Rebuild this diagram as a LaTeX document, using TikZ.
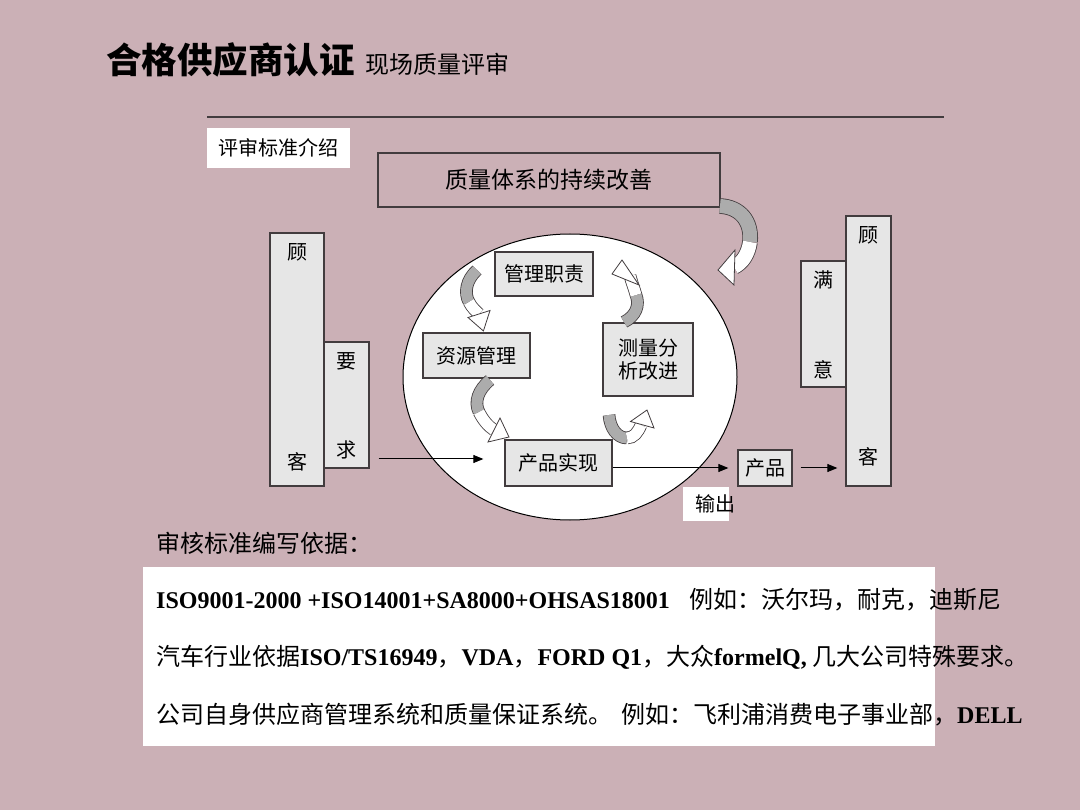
\documentclass[tikz,border=0pt]{standalone}
\usepackage{fontspec}
\setmainfont{Liberation Serif}
\newfontfamily\cjk{Noto Sans CJK SC}
\usetikzlibrary{arrows.meta,calc,shapes.geometric}
\definecolor{bg}{RGB}{203,176,182}
\definecolor{boxg}{RGB}{230,230,230}
\definecolor{edge}{RGB}{66,60,62}
\definecolor{bandgray}{RGB}{172,172,172}
\begin{document}
\begin{tikzpicture}[x=1pt,y=-1pt,
  gbox/.style={draw=edge, line width=1.3pt, fill=boxg, inner sep=0pt},
  ch/.style={font=\cjk\fontsize{20}{24}\selectfont, inner sep=0pt},
  arr/.style={draw=black, line width=1pt, -{Triangle[length=10pt,width=8pt]}},
  bandG/.style={draw=edge, line width=0.8pt, double=bandgray, double distance=11pt},
  bandW/.style={draw=edge, line width=0.8pt, double=white, double distance=11pt},
  bandGbig/.style={draw=edge, line width=0.8pt, double=bandgray, double distance=14pt},
  bandWbig/.style={draw=edge, line width=0.8pt, double=white, double distance=14pt},
  head/.style={draw=edge, line width=0.8pt, fill=white, line join=miter},
  btxt/.style={anchor=west, inner sep=0pt, font=\fontsize{24}{28}\selectfont},
]
\fill[bg] (0,0) rectangle (1080,810);
\useasboundingbox (0,0) rectangle (1080,810);

% title
\node[anchor=west, inner sep=0pt, font=\cjk\bfseries\fontsize{35.5}{40}\selectfont] (title) at (106,60) {合格供应商认证};
\node[anchor=base west, inner sep=0pt, font=\cjk\fontsize{24}{28}\selectfont] (subtitle) at ([xshift=10pt]title.base east) {现场质量评审};
\draw[edge, line width=2pt] (207,117) -- (944,117);

% intro label
\node[fill=white, minimum width=143pt, minimum height=40pt, ch] (pszb) at (278.5,148) {评审标准介绍};

% top box
\node[draw=edge, line width=1.3pt, minimum width=342pt, minimum height=54pt, inner sep=0pt,
      font=\cjk\fontsize{23}{28}\selectfont] (zltx) at (549,180) {质量体系的持续改善};

% big ellipse
\node[ellipse, draw=black, line width=1pt, fill=white, minimum width=334pt, minimum height=286pt, inner sep=0pt] (circ) at (570,377) {};

% inner boxes
\node[gbox, minimum width=98pt, minimum height=44pt, ch] (glzz) at (544,274) {管理职责};
\node[gbox, minimum width=107pt, minimum height=45pt, ch] (zygl) at (476.5,355.5) {资源管理};
\node[gbox, minimum width=90pt, minimum height=73pt, ch, align=center] (clfx) at (648,359.5) {测量分\\[-1pt]析改进};
\node[gbox, minimum width=107pt, minimum height=46pt, ch] (cpsx) at (558.5,463) {产品实现};

% left customer
\node[gbox, minimum width=54pt, minimum height=253pt] (kL) at (297,359.5) {};
\node[ch] (kL1) at (297,252) {顾};
\node[ch] (kL2) at (297,462) {客};
\node[gbox, minimum width=45pt, minimum height=126pt] (yq) at (346.5,405) {};
\node[ch] (yq1) at (346.5,361) {要};
\node[ch] (yq2) at (346.5,450) {求};

% right customer
\node[gbox, minimum width=45pt, minimum height=270pt] (kR) at (868.5,351) {};
\node[ch] (kR1) at (868.5,235) {顾};
\node[ch] (kR2) at (868.5,457) {客};
\node[gbox, minimum width=45pt, minimum height=126pt] (my) at (823.5,324) {};
\node[ch] (my1) at (823.5,280) {满};
\node[ch] (my2) at (823.5,370) {意};

% product
\node[gbox, minimum width=54pt, minimum height=36pt, ch] (cp) at (765,468) {产品};

% output label
\node[fill=white, minimum width=46pt, minimum height=34pt, inner sep=0pt] (scbox) at (706,504) {};
\node[ch] (sc) at (715,504) {输出};

% connectors
\path ([yshift=4pt]cpsx.west) coordinate (i1);
\draw[arr, shorten <=9pt, shorten >=21pt] (i1 -| yq.east) -- (i1);
\path ([yshift=-5pt]cpsx.east) coordinate (o1);
\draw[arr, shorten >=9pt] (o1) -- (o1 -| cp.west);
\draw[arr, shorten <=8pt, shorten >=8pt] (cp.east) -- (cp.east -| kR.west);

% curved block arrows
% big: quality improvement -> circle
\draw[bandGbig] (720,206) .. controls (740,207) and (752,221) .. (750,242);
\draw[bandWbig] (750,242) .. controls (748,255) and (742,263) .. (734,267);
\draw[head] (735,250) -- (718,270) -- (734,285) -- cycle;
% management -> resources
\draw[bandG] (477,270) .. controls (466,280) and (464,293) .. (469,302);
\draw[bandW] (469,302) .. controls (472,308) and (476,311) .. (479,314);
\draw[head] (490,310.5) -- (483.4,331) -- (468,317.5) -- cycle;
% resources -> realization
\draw[bandG] (490,380) .. controls (478,390) and (474,402) .. (479,412);
\draw[bandW] (479,412) .. controls (483,420) and (488,426) .. (494,430);
\draw[head] (500,418) -- (509,437) -- (488,442) -- cycle;
% realization -> measurement
\draw[bandG] (609,415) .. controls (610,428) and (617,438) .. (627,438);
\draw[bandW] (627,438) .. controls (634,438) and (638,432) .. (641,425);
\draw[head] (630.5,421.5) -- (647,410) -- (654,428) -- cycle;
% measurement -> management
\draw[bandG] (624,322) .. controls (636,316) and (640,305) .. (636,295);
\draw[bandW] (636,295) .. controls (634,288) and (632,283) .. (630,276);
\draw[head] (622,260) -- (612,274) -- (639,285) -- cycle;

% bottom section
\node[anchor=west, inner sep=0pt, font=\cjk\fontsize{24}{28}\selectfont] (shyj) at (156,543) {审核标准编写依据：};
\node[fill=white, minimum width=792pt, minimum height=179pt, inner sep=0pt] (wb) at (539,656.5) {};
\node[btxt] (l1) at (156,600) {{\bfseries ISO9001-2000 +ISO14001+SA8000+OHSAS18001}\hspace{20pt}{\cjk 例如：沃尔玛，耐克，迪斯尼}};
\node[btxt] (l2) at (156,657) {{\cjk 汽车行业依据}{\bfseries ISO/TS16949}{\cjk ，}{\bfseries VDA}{\cjk ，}{\bfseries FORD Q1}{\cjk ，大众}{\bfseries formelQ, }{\cjk 几大公司特殊要求。}};
\node[btxt] (l3) at (156,715) {{\cjk 公司自身供应商管理系统和质量保证系统。}\hspace{9pt}{\cjk 例如：飞利浦消费电子事业部，}{\bfseries DELL}};
\end{tikzpicture}
\end{document}
